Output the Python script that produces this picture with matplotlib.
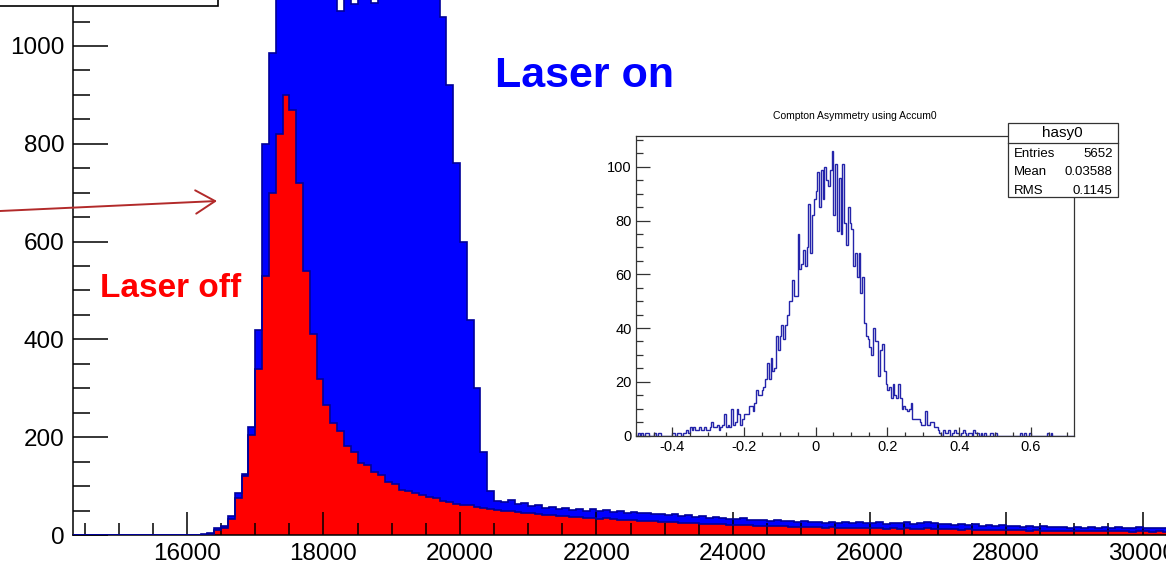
#!/usr/bin/env python3
"""
laser on / laser off spectra with the compton asymmetry inset
"""

import matplotlib.pyplot as plt
import numpy as np
from matplotlib.patches import Rectangle, FancyArrowPatch
from matplotlib.ticker import MultipleLocator, FuncFormatter

# main histogram: 100 wide bins starting at 16200
bin_start = 16200
bin_width = 100

laser_on = [
    2, 5, 14, 18, 38, 85, 125, 220, 420, 800,            # 16200-17100
    985, 1160, 1200, 1220, 1240, 1230, 1250, 1240, 1230, 1210,  # 17200-18100
    1072, 1200, 1086, 1150, 1210, 1088, 1180, 1220, 1230, 1210,  # 18200-19100
    1200, 1190, 1180, 1160, 1130, 1060, 920, 760, 600, 440,      # 19200-20100
    300, 170, 90, 70,                                    # 20200-20500
    68, 72, 64, 66, 60, 62, 55, 58, 54, 56,
    52, 54, 50, 53, 49, 51, 47, 49, 45, 47,
    44, 46, 42, 43, 40, 42, 38, 40, 37, 38,
    35, 37, 34, 33, 32, 34, 31, 30, 31, 29,
    30, 28, 29, 27, 28, 26, 27, 25, 27, 25,
    26, 24, 26, 25, 24, 26, 23, 25, 24, 26,
    23, 25, 27, 24, 22, 23, 21, 22, 20, 22,
    19, 20, 18, 20, 18, 19, 17, 18, 16, 18,
    17, 16, 17, 15, 16, 15, 17, 15, 16, 14,
    16, 15, 14, 16, 15, 14, 15, 14,
]

laser_off = [
    0, 3, 10, 15, 32, 75, 120, 205, 340, 530,
    700, 820, 900, 870, 720, 540, 410, 320, 265, 230,
    212, 182, 170, 148, 143, 128, 122, 108, 104, 93,
    90, 86, 81, 78, 75, 70, 68, 64, 62, 61,
    58, 55, 53, 51,
    50, 49, 47, 46, 44, 43, 41, 40, 38, 39,
    36, 37, 35, 34, 33, 34, 32, 31, 30, 31,
    29, 28, 28, 27, 26, 27, 25, 25, 24, 23,
    23, 22, 22, 21, 21, 20, 20, 19, 19, 18,
    19, 18, 17, 17, 17, 16, 16, 15, 16, 15,
    15, 14, 15, 14, 14, 14, 13, 14, 13, 14,
    13, 13, 14, 13, 12, 12, 12, 11, 12, 11,
    11, 10, 11, 10, 10, 10, 10, 9, 10, 9,
    9, 9, 9, 8, 9, 8, 9, 8, 8, 8,
    8, 8, 7, 8, 8, 7, 8, 7,
]

# inset: asymmetry histogram, 0.005 wide bins from -0.5
asym_start = -0.5
asym_width = 0.005
asym_counts = [
    0, 1, 0, 1, 0, 1, 1, 0, 0, 0,
    1, 0, 1, 1, 0, 0, 0, 0, 0, 0,
    1, 1, 0, 1, 1, 0, 1, 1, 2, 1,
    3, 2, 3, 2, 2, 3, 2, 2, 3, 2,
    2, 3, 5, 3, 3, 4, 2, 3, 4, 8,
    3, 4, 3, 10, 4, 5, 10, 8, 4, 6,
    8, 8, 8, 11, 11, 9, 12, 17, 15, 15,
    17, 18, 21, 27, 21, 29, 24, 25, 37, 32,
    37, 41, 36, 41, 45, 50, 50, 58, 52, 52,
    75, 62, 64, 69, 63, 70, 86, 68, 82, 88,
    91, 98, 85, 99, 88, 100, 95, 93, 99, 106,
    82, 101, 76, 96, 75, 101, 79, 71, 85, 79,
    77, 63, 68, 59, 68, 53, 59, 42, 37, 36,
    33, 30, 40, 35, 35, 22, 32, 34, 24, 19,
    17, 18, 14, 19, 15, 14, 19, 14, 10, 11,
    10, 9, 10, 12, 6, 6, 6, 6, 5, 4,
    4, 9, 4, 4, 5, 5, 3, 3, 2, 1,
    0, 2, 1, 1, 2, 0, 1, 2, 1, 1,
    0, 1, 2, 1, 0, 1, 1, 0, 2, 1,
    1, 0, 1, 0, 1, 0, 0, 1, 1, 0,
    1, 0, 0, 0, 0, 0, 0, 0, 0, 0,
    0, 0, 0, 0, 1, 0, 1, 0, 0, 1,
    0, 0, 0, 0, 0, 0, 0, 0, 0, 1,
    0, 1, 0, 0, 0, 0, 0, 0, 0, 0,
    0, 0, 0, 0,
]

stats_title = "hasy0"
stats_rows = [("Entries", "5652"), ("Mean", "0.03588"), ("RMS", "0.1145")]
inset_title = "Compton Asymmetry using Accum0"

W, H = 1166, 565


def fx(px):
    return px / W


def fy(py):
    return 1 - py / H


def fmt(v, pos):
    return f"{v:g}"


def plot(output_file: str) -> None:
    plt.rcParams['font.family'] = ['Liberation Sans', 'DejaVu Sans']
    fig = plt.figure(figsize=(W / 100, H / 100), dpi=100)

    # ---- main pad (cropped at top and right)
    ax = fig.add_axes([fx(73), fy(535), 1 - fx(73), 1 - fy(535)])
    xmin, xmax = 14330, 30344
    ax.set_xlim(xmin, xmax)
    ax.set_ylim(0, 1094)

    edges = bin_start + bin_width * np.arange(len(laser_on) + 1)
    edges = np.concatenate([[xmin], edges])
    on = np.concatenate([[0], laser_on])
    off = np.concatenate([[0], laser_off])
    ax.stairs(on, edges, fill=True, color="#0000ff", lw=0, zorder=1)
    ax.stairs(off, edges, fill=True, color="#ff0000", lw=0, zorder=1.2)
    ax.stairs(on, edges, color="#000099", lw=1.2, zorder=3)
    ax.stairs(off, edges, color="#000099", lw=1.2, zorder=3)

    for s in ("top", "right"):
        ax.spines[s].set_visible(False)
    for s in ("left", "bottom"):
        ax.spines[s].set_linewidth(1.1)
    ax.xaxis.set_major_locator(MultipleLocator(2000))
    ax.xaxis.set_minor_locator(MultipleLocator(500))
    ax.yaxis.set_major_locator(MultipleLocator(200))
    ax.yaxis.set_minor_locator(MultipleLocator(50))
    ax.xaxis.set_major_formatter(FuncFormatter(fmt))
    ax.yaxis.set_major_formatter(FuncFormatter(fmt))
    ax.tick_params(axis="y", which="major", direction="in", length=25, width=1.1,
                   labelsize=17.5, pad=6)
    ax.tick_params(axis="y", which="minor", direction="in", length=12, width=1.1)
    ax.tick_params(axis="x", which="major", direction="in", length=16.5, width=1.1,
                   labelsize=17.5, pad=6)
    ax.tick_params(axis="x", which="minor", direction="in", length=8.5, width=1.1)

    # ---- labels, arrow, cropped box top left
    fig.text(fx(100), fy(297), "Laser off", color="#ff0000", fontsize=24,
             fontweight="bold", ha="left", va="baseline")
    fig.text(fx(495), fy(87), "Laser on", color="#0000ff", fontsize=31,
             fontweight="bold", ha="left", va="baseline")
    fig.add_artist(FancyArrowPatch((fx(0), fy(211)), (fx(217), fy(201)),
                                   transform=fig.transFigure,
                                   arrowstyle="->,head_length=1.0,head_width=0.6",
                                   mutation_scale=14, color="#b22a2a", lw=1.4,
                                   shrinkA=0, shrinkB=0))
    fig.add_artist(Rectangle((-0.01, fy(6)), fx(218) + 0.01, 0.05,
                             transform=fig.transFigure, facecolor="white",
                             edgecolor="black", lw=1.2, clip_on=False))

    # ---- inset pad
    ins = fig.add_axes([fx(636), fy(435.5), fx(438), 1 - fy(299.5)])
    aedges = asym_start + asym_width * np.arange(len(asym_counts) + 1)
    ins.stairs(asym_counts, aedges, color="#2424aa", lw=1.0)
    ins.set_xlim(-0.5, 0.72)
    ins.set_ylim(0, 111.5)
    for s in ins.spines.values():
        s.set_linewidth(0.9)
        s.set_color("#333333")
    ins.xaxis.set_major_locator(MultipleLocator(0.2))
    ins.xaxis.set_minor_locator(MultipleLocator(0.05))
    ins.yaxis.set_major_locator(MultipleLocator(20))
    ins.yaxis.set_minor_locator(MultipleLocator(5))
    ins.xaxis.set_major_formatter(FuncFormatter(fmt))
    ins.yaxis.set_major_formatter(FuncFormatter(fmt))
    ins.tick_params(axis="y", which="major", direction="in", length=10, width=0.9,
                    color="#333333", labelsize=10.5, pad=3)
    ins.tick_params(axis="y", which="minor", direction="in", length=5, width=0.9,
                    color="#333333")
    ins.tick_params(axis="x", which="major", direction="in", length=6.5, width=0.9,
                    color="#333333", labelsize=10.5, pad=3)
    ins.tick_params(axis="x", which="minor", direction="in", length=3.2, width=0.9,
                    color="#333333")

    fig.text(fx(773), fy(119), inset_title, fontsize=7.5, ha="left", va="baseline")

    # ---- stats box
    fig.add_artist(Rectangle((fx(1008.3), fy(197.3)), fx(110), 1 - fy(74.6),
                             transform=fig.transFigure, facecolor="white",
                             edgecolor="#333333", lw=0.9))
    fig.add_artist(plt.Line2D([fx(1008.3), fx(1118.3)], [fy(142.7), fy(142.7)],
                              transform=fig.transFigure, color="#333333", lw=0.9))
    fig.text(fx(1062.5), fy(137.3), stats_title, fontsize=11, ha="center", va="baseline")
    for i, (name, val) in enumerate(stats_rows):
        y = fy(156.7 + 18.7 * i)
        fig.text(fx(1014), y, name, fontsize=9.5, ha="left", va="baseline")
        fig.text(fx(1112.5), y, val, fontsize=9.5, ha="right", va="baseline")

    fig.savefig(output_file, dpi=100)


if __name__ == "__main__":
    plot("out.png")
